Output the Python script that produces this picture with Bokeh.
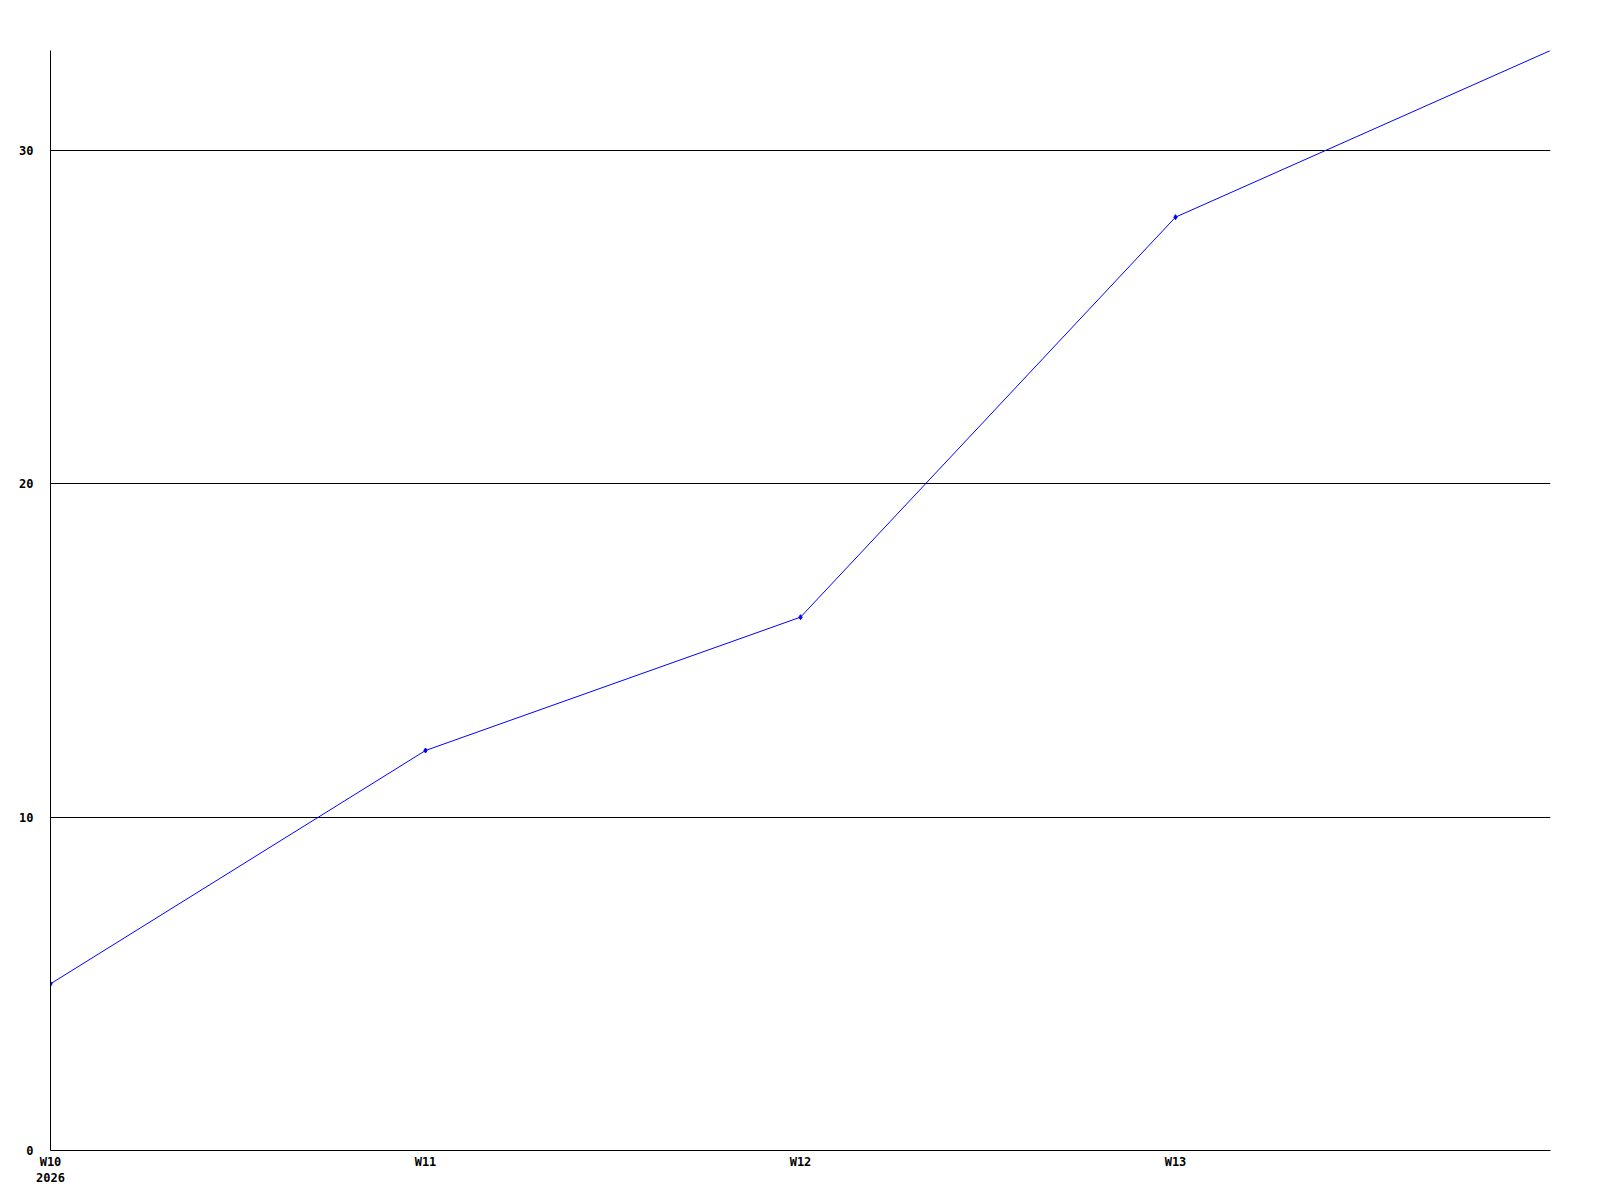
from bokeh.plotting import figure
from bokeh.models import FixedTicker, Range1d
from bokeh.embed import file_html
from bokeh.resources import INLINE

weeks = [10, 11, 12, 13, 14]
values = [5, 12, 16, 28, 33]
tick_weeks = [10, 11, 12, 13]
tick_labels = ["W10\n2026", "W11", "W12", "W13"]
y_ticks = [0, 10, 20, 30]

p = figure(width=1584, height=1192, output_backend="svg", toolbar_location=None,
           x_range=Range1d(10, 14), y_range=Range1d(0, 33),
           min_border_left=50, min_border_right=34, min_border_top=50, min_border_bottom=42)
p.outline_line_color = None
p.xgrid.grid_line_color = None
p.ygrid.grid_line_color = "black"
p.ygrid.grid_line_alpha = 1
p.ygrid.ticker = FixedTicker(ticks=[10, 20, 30])

for ax in (p.xaxis[0], p.yaxis[0]):
    ax.axis_line_color = "black"
    ax.axis_line_width = 1
    ax.major_tick_line_color = None
    ax.minor_tick_line_color = None
    ax.major_label_text_font = "DejaVu Sans Mono"
    ax.major_label_text_font_style = "bold"
    ax.major_label_text_font_size = "12px"
    ax.major_label_text_color = "black"

p.xaxis.ticker = FixedTicker(ticks=tick_weeks)
p.xaxis.major_label_overrides = {w: l for w, l in zip(tick_weeks, tick_labels)}
p.xaxis.major_label_standoff = -2
p.yaxis.ticker = FixedTicker(ticks=y_ticks)
p.yaxis.major_label_standoff = 11

p.line(weeks, values, line_color="#0000ff", line_width=1)
p.scatter(weeks[:-1], values[:-1], marker="diamond", size=5, color="#0000ff")

open("out.html", "w").write(file_html(p, INLINE))
